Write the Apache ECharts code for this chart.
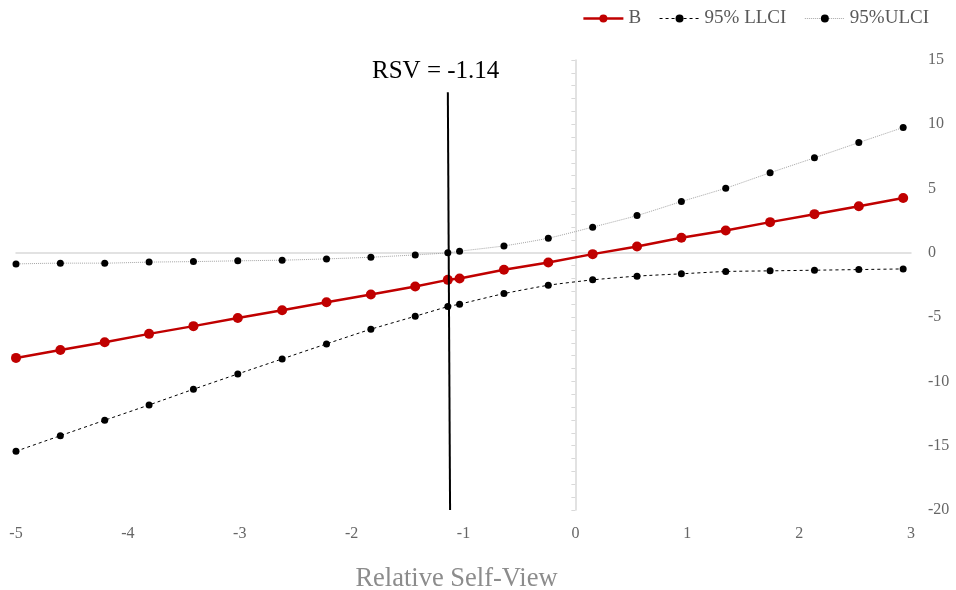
<!DOCTYPE html>
<html><head><meta charset="utf-8">
<script src="https://cdn.jsdelivr.net/npm/echarts@6/dist/echarts.min.js"></script>
<style>html,body{margin:0;padding:0;background:#fff}#c{width:956px;height:590px}</style>
</head><body><div id="c"></div>
<script>
const xValues = [-5, -4.6035, -4.207, -3.8105, -3.414, -3.0175, -2.621, -2.2245, -1.828, -1.4315, -1.14, -1.035, -0.6385, -0.242, 0.1545, 0.551, 0.9475, 1.344, 1.7405, 2.137, 2.5335, 2.93];
const bValues = [-8.17, -7.55, -6.95, -6.30, -5.70, -5.06, -4.46, -3.84, -3.24, -2.62, -2.10, -2.00, -1.32, -0.75, -0.10, 0.49, 1.17, 1.74, 2.39, 3.01, 3.63, 4.26];
const llciValues = [-15.43, -14.22, -13.02, -11.83, -10.61, -9.42, -8.25, -7.08, -5.94, -4.93, -4.18, -3.99, -3.17, -2.52, -2.10, -1.81, -1.63, -1.45, -1.40, -1.35, -1.30, -1.25];
const ulciValues = [-0.86, -0.80, -0.80, -0.72, -0.68, -0.62, -0.57, -0.47, -0.34, -0.16, 0.00, 0.13, 0.54, 1.14, 2.00, 2.90, 3.99, 5.03, 6.23, 7.39, 8.58, 9.75];
const seriesNames = ['B', '95% LLCI', '95%ULCI'];
const jnValue = -1.14;
const jnLineTop = 12.5;
const jnLabel = 'RSV = -1.14';
const xTitle = 'Relative Self-View';

const pairs = vals => xValues.map((x, i) => [x, vals[i]]);
const FONT = 'Liberation Serif';

const chart = echarts.init(document.getElementById('c'), null, {renderer: 'canvas'});
chart.setOption({
  animation: false,
  backgroundColor: '#fff',
  textStyle: {fontFamily: FONT},
  legend: {
    data: [
      {name: seriesNames[0], lineStyle: {width: 2.5}},
      {name: seriesNames[1], lineStyle: {width: 1, type: [3, 3]}},
      {name: seriesNames[2], lineStyle: {width: 1, type: [1, 1]}}
    ],
    top: 4, right: 22, itemGap: 18, itemWidth: 40, itemHeight: 10,
    textStyle: {fontSize: 19, color: '#595959', fontFamily: FONT}
  },
  grid: {left: 16, right: 45, top: 60, bottom: 80, outerBoundsMode: 'none'},
  xAxis: [
    {type: 'value', min: -5, max: 3, interval: 1,
     axisLine: {show: true, onZero: true, lineStyle: {color: '#d9d9d9', width: 1.5}},
     axisTick: {show: false}, axisLabel: {show: false}, splitLine: {show: false}},
    {type: 'value', min: -5, max: 3, interval: 1, position: 'bottom',
     axisLine: {show: false, onZero: false}, axisTick: {show: false},
     axisLabel: {color: '#666', fontSize: 16, margin: 16, fontFamily: FONT},
     splitLine: {show: false},
     name: xTitle, nameLocation: 'middle', nameGap: 56,
     nameTextStyle: {color: '#8c8c8c', fontSize: 26.5, fontFamily: FONT, padding: [0, 14, 0, 0]}}
  ],
  yAxis: [
    {type: 'value', min: -20, max: 15, interval: 1, position: 'left',
     axisLine: {show: true, onZero: true, lineStyle: {color: '#d9d9d9', width: 1.5}},
     axisTick: {show: true, length: 4, lineStyle: {color: '#d9d9d9'}},
     axisLabel: {show: false}, splitLine: {show: false}},
    {type: 'value', min: -20, max: 15, interval: 5, position: 'right',
     axisLine: {show: false, onZero: false}, axisTick: {show: false},
     axisLabel: {color: '#666', fontSize: 16, margin: 17, align: 'left', fontFamily: FONT},
     splitLine: {show: false}}
  ],
  graphic: [{
    type: 'text', left: 372, top: 59, z: 100,
    style: {text: jnLabel, fontSize: 25, fontFamily: FONT, fill: '#000'}
  }],
  series: [
    {name: seriesNames[1], type: 'line', xAxisIndex: 0, yAxisIndex: 0, data: pairs(llciValues),
     symbol: 'circle', symbolSize: 7, smooth: 0.2,
     itemStyle: {color: '#000'}, lineStyle: {color: '#000', width: 1, type: [3, 3]}, z: 3},
    {name: seriesNames[2], type: 'line', xAxisIndex: 0, yAxisIndex: 0, data: pairs(ulciValues),
     symbol: 'circle', symbolSize: 7, smooth: 0.2,
     itemStyle: {color: '#000'}, lineStyle: {color: '#a6a6a6', width: 1, type: [1, 1]}, z: 3},
    {name: seriesNames[0], type: 'line', xAxisIndex: 0, yAxisIndex: 0, data: pairs(bValues),
     symbol: 'circle', symbolSize: 10,
     itemStyle: {color: '#c00000'}, lineStyle: {color: '#c00000', width: 2.5}, z: 4,
     markLine: {
       symbol: 'none', silent: true, label: {show: false},
       lineStyle: {color: '#000', width: 2, type: 'solid'},
       data: [[{coord: [jnValue, jnLineTop]}, {coord: [jnValue + 0.02, -20]}]]
     }}
  ]
});
</script>
</body></html>
